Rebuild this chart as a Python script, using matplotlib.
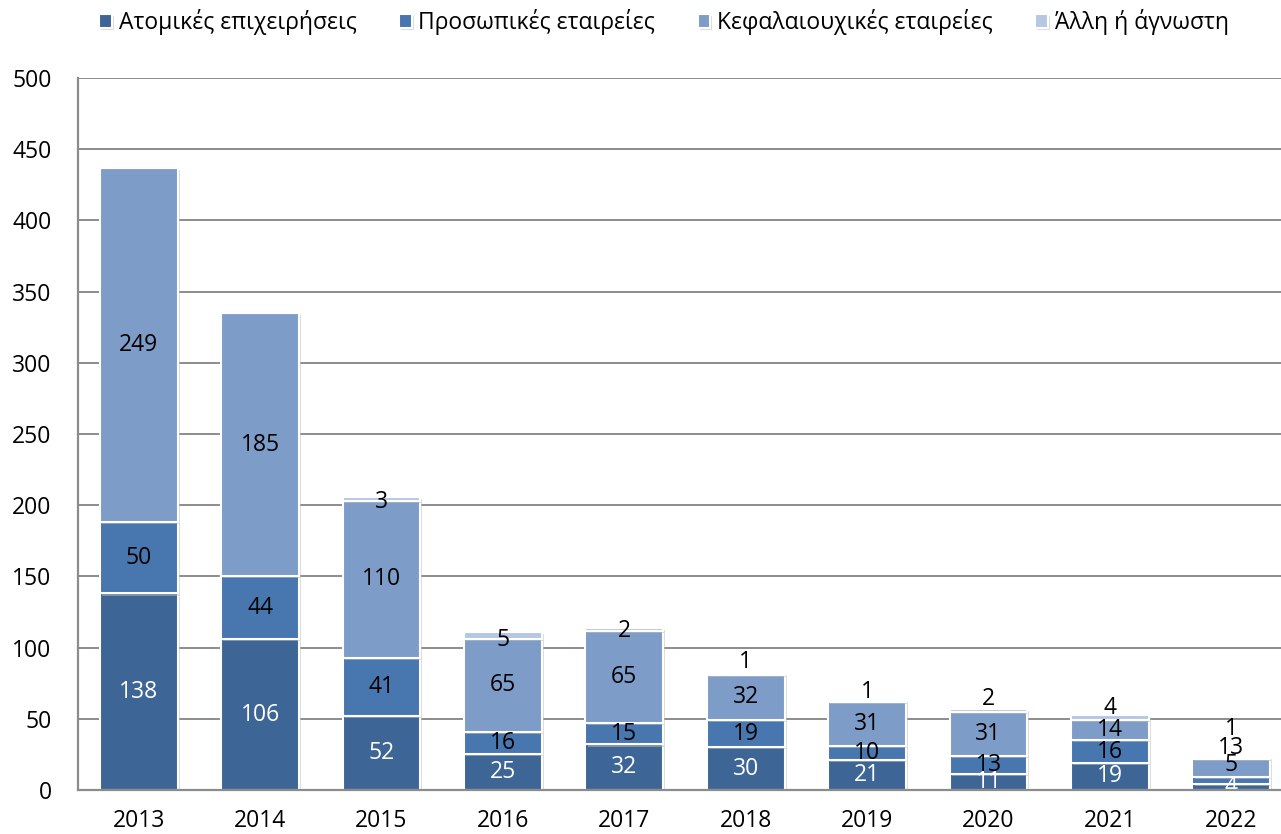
import matplotlib
matplotlib.use("Agg")
import matplotlib.pyplot as plt
import matplotlib.patheffects as pe
import matplotlib.transforms as mtransforms
import numpy as np

plt.rcParams['font.family'] = ['Open Sans', 'DejaVu Sans']

years = ['2013', '2014', '2015', '2016', '2017', '2018', '2019', '2020', '2021', '2022']
series_names = ['Ατομικές επιχειρήσεις', 'Προσωπικές εταιρείες',
                'Κεφαλαιουχικές εταιρείες', 'Άλλη ή άγνωστη']
atomikes = [138, 106, 52, 25, 32, 30, 21, 11, 19, 4]
prosopikes = [50, 44, 41, 16, 15, 19, 10, 13, 16, 5]
kefalaiouchikes = [249, 185, 110, 65, 65, 32, 31, 31, 14, 13]
alli = [0, 0, 3, 5, 2, 1, 1, 2, 4, 1]
yticks = [0, 50, 100, 150, 200, 250, 300, 350, 400, 450, 500]

colors = ['#3D6595', '#4876AF', '#7E9CC8', '#B6C7E2']
label_colors = ['white', 'black', 'black', 'black']
# vertical label offsets in points (layout only)
label_offsets = [
    [0, 0, 0, 0, 0, 0, 0, 0, 0, 0],
    [0, 0, 0, 0, 0, 0, 0, 0, 0, 11.5],
    [0, 0, 0, 0, 0, 0, 0, 0, 0, 14.4],
    [0, 0, -2, -3, -1.5, 8.6, 6.5, 8, 6.5, 21],
]
FS = 16.5

fig = plt.figure(figsize=(12.81, 8.34), dpi=100)
ax = fig.add_axes([78/1281, 1 - 790/834, (1292 - 78)/1281, 712/834])

x = np.arange(len(years))
data = [atomikes, prosopikes, kefalaiouchikes, alli]
bottom = np.zeros(len(years))
shadow = [pe.SimplePatchShadow(offset=(1.5, -1.5), shadow_rgbFace='#bbbbbb', alpha=0.5), pe.Normal()]
handles = []
for si, vals in enumerate(data):
    vals = np.array(vals, dtype=float)
    bars = ax.bar(x, vals, width=0.64, bottom=bottom, color=colors[si],
                  edgecolor='white', linewidth=1.5, zorder=3,
                  label=series_names[si])
    for b in bars:
        b.set_path_effects(shadow)
    handles.append(bars)
    for i, v in enumerate(vals):
        if v <= 0:
            continue
        yc = bottom[i] + v / 2
        tr = mtransforms.offset_copy(ax.transData, fig=fig, x=0,
                                     y=label_offsets[si][i], units='points')
        ax.text(x[i], yc, f'{int(v)}', transform=tr, ha='center', va='center',
                fontsize=FS, color=label_colors[si], zorder=5, clip_on=True)
    bottom += vals

ax.set_xlim(-0.5, len(years) - 0.5)
ax.set_ylim(0, 500)
ax.set_yticks(yticks)
ax.set_yticklabels([str(t) for t in yticks])
ax.set_xticks(x)
ax.set_xticklabels(years)
ax.tick_params(axis='y', length=0, pad=19, labelsize=FS)
ax.tick_params(axis='x', length=0, pad=14, labelsize=FS)
ax.grid(axis='y', color='#8C8C8C', linewidth=1.4, zorder=0)
ax.set_axisbelow(True)
for s in ['top', 'right']:
    ax.spines[s].set_visible(False)
for s in ['left', 'bottom']:
    ax.spines[s].set_color('#8C8C8C')
    ax.spines[s].set_linewidth(1.6)
    ax.spines[s].set_zorder(6)

fig.legend(handles, series_names, loc='center', bbox_to_anchor=(664/1281, 1 - 22/834),
           ncol=4, frameon=False, fontsize=FS, handlelength=0.55, handleheight=0.6,
           handletextpad=0.3, columnspacing=1.85)

fig.savefig('out.png', dpi=100)
